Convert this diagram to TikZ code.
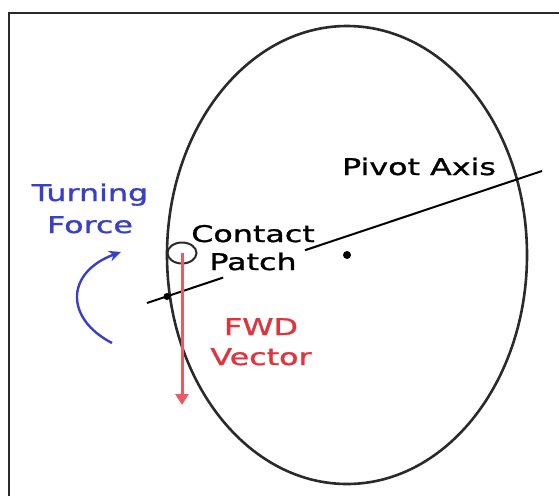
\documentclass[tikz,border=0pt]{standalone}
\usepackage{fontspec}
\usepackage{tikz}
\usetikzlibrary{calc,arrows.meta,shapes.geometric}
\newfontfamily\handfont[FakeStretch=1.38,FakeBold=1.2]{DejaVu Sans}
\definecolor{turnblue}{HTML}{3A3FC8}
\definecolor{fwdred}{HTML}{E2323C}
\definecolor{ink}{HTML}{2A2A2A}

\begin{document}
\begin{tikzpicture}[
  x=1pt, y=-1pt,
  font=\handfont\fontsize{23}{30}\selectfont,
  tyre/.style={draw=ink, line width=2.6pt},
  axis/.style={draw=black, line width=2pt},
  lbl/.style={inner sep=0pt, align=center, anchor=base},
  turn/.style={-{Stealth[length=12pt, width=11pt]}, line width=2.4pt, draw=turnblue},
  fwd/.style={-{Triangle[length=11pt, width=13pt]}, line width=3pt, draw=fwdred!80!white},
  dot/.style={circle, fill=black, inner sep=0pt, minimum size=8pt}
]
  \useasboundingbox (0,0) rectangle (559,496);
  % frame
  \draw[line width=2.6pt, ink] (9,496) -- (9,13) -- (559,13);
  % tyre outline
  \coordinate (tyre) at (347,255);
  \draw[tyre] (tyre) ellipse [x radius=180, y radius=229];
  \node[dot] (hub) at (tyre) {};
  % pivot axis with gap for the label
  \coordinate (axisL) at (147,303);
  \coordinate (axisR) at (542,171);
  \draw[axis] (axisL) -- ($(axisL)!0.193!(axisR)$);
  \draw[axis] ($(axisL)!0.40!(axisR)$) -- (axisR);
  \node[dot, minimum size=7pt] (edge) at (167,296.5) {};
  % contact patch and forward vector
  \node[draw=ink, line width=2pt, ellipse, minimum width=29pt, minimum height=21pt, inner sep=0pt] (patch) at (182,253) {};
  \coordinate (fwdend) at (182,405);
  \draw[fwd] (patch.center) -- (fwdend);
  % turning force
  \coordinate (turnA) at (112,343);
  \coordinate (turnB) at (121,252);
  \draw[turn] (turnA) .. controls (64,318) and (66,272) .. (turnB);
  % labels
  \node[lbl, text=turnblue] (turnlbl) at (90,233) {Turning\\[2pt]Force};
  \node[lbl] (pivotlbl) at (419,175) {Pivot Axis};
  \node[lbl] (patchlbl) at (253,270) {Contact\\[-2pt]Patch};
  \node[lbl, text=fwdred] (fwdlbl) at (261,365) {FWD\\Vector};
\end{tikzpicture}
\end{document}
